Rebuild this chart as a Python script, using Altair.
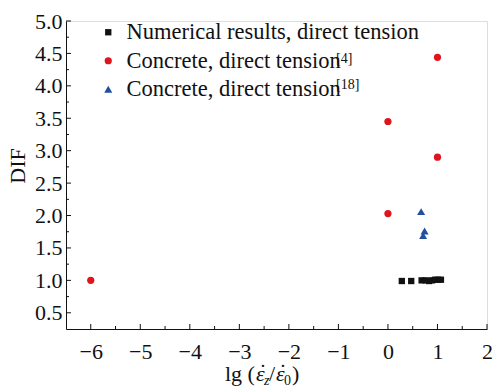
import altair as alt
import pandas as pd

# ---- data ----
num_x = [0.28, 0.47, 0.68, 0.76, 0.83, 0.89, 0.95, 1.01, 1.07]
num_y = [0.99, 0.99, 1.00, 1.00, 0.99, 1.00, 1.01, 1.01, 1.01]
c4_x = [-6, 0, 0, 1, 1]
c4_y = [1.00, 2.03, 3.45, 4.44, 2.90]
c18_x = [0.67, 0.74, 0.71]
c18_y = [2.06, 1.76, 1.69]

series_names = ["Numerical results, direct tension",
                "Concrete, direct tension",
                "Concrete, direct tension "]
series_refs = ["", "[4]", "[18]"]
series_colors = ["#111111", "#e0141c", "#1f4f9e"]
series_shapes = ["square", "circle", "triangle-up"]
series_sizes = [40, 64, 72]

x_major = [-6, -5, -4, -3, -2, -1, 0, 1, 2]
x_minor = [-5.5, -4.5, -3.5, -2.5, -1.5, -0.5, 0.5, 1.5]
y_major = [0.5, 1.0, 1.5, 2.0, 2.5, 3.0, 3.5, 4.0, 4.5, 5.0]
y_minor = [0.75, 1.25, 1.75, 2.25, 2.75, 3.25, 3.75, 4.25, 4.75]

W, H = 421, 308
FONT = "Liberation Serif"

rows = []
for xs, ys, name in [(num_x, num_y, series_names[0]),
                     (c4_x, c4_y, series_names[1]),
                     (c18_x, c18_y, series_names[2])]:
    for a, b in zip(xs, ys):
        rows.append({"x": a, "y": b, "series": name})
df = pd.DataFrame(rows)

xscale = alt.Scale(domain=[-6.5, 2], nice=False, zero=False)
yscale = alt.Scale(domain=[0.25, 5.0], nice=False, zero=False)

xaxis = alt.Axis(values=x_major, format="d", title=None, grid=False,
                 ticks=False, tickSize=0, labelPadding=12,
                 labelFont=FONT, labelFontSize=22, labelColor="#111",
                 domainColor="#111", labelFlush=False, labelOverlap=False)
yaxis = alt.Axis(values=y_major, format=".1f", title=None, grid=False,
                 ticks=False, tickSize=0, labelPadding=4,
                 labelFont=FONT, labelFontSize=22, labelColor="#111",
                 domainColor="#111", labelFlush=False, labelOverlap=False)

points = alt.Chart(df).mark_point(filled=True, opacity=1).encode(
    x=alt.X("x:Q", scale=xscale, axis=xaxis),
    y=alt.Y("y:Q", scale=yscale, axis=yaxis),
    color=alt.Color("series:N", title=None,
                    scale=alt.Scale(domain=series_names, range=series_colors),
                    legend=alt.Legend(orient="none", legendX=31, legendY=0,
                                      labelFont=FONT, labelFontSize=22.5,
                                      labelColor="#111", labelLimit=500,
                                      padding=0, rowPadding=5.5, labelOffset=7)),
    shape=alt.Shape("series:N", title=None,
                    scale=alt.Scale(domain=series_names, range=series_shapes)),
    size=alt.Size("series:N", title=None,
                  scale=alt.Scale(domain=series_names, range=series_sizes)),
)

xmaj = alt.Chart(pd.DataFrame({"x": x_major})).mark_rule(color="#111").encode(
    x=alt.X("x:Q", scale=xscale, axis=xaxis), y=alt.value(H), y2=alt.value(H - 5))
xmin = alt.Chart(pd.DataFrame({"x": x_minor})).mark_rule(color="#111").encode(
    x=alt.X("x:Q", scale=xscale, axis=xaxis), y=alt.value(H), y2=alt.value(H - 3))
ymaj = alt.Chart(pd.DataFrame({"y": y_major})).mark_rule(color="#111").encode(
    y=alt.Y("y:Q", scale=yscale, axis=yaxis), x=alt.value(0), x2=alt.value(5))
ymin = alt.Chart(pd.DataFrame({"y": y_minor})).mark_rule(color="#111").encode(
    y=alt.Y("y:Q", scale=yscale, axis=yaxis), x=alt.value(0), x2=alt.value(3))

def txt(s, x, y, size=22, style="normal", angle=0, align="left", baseline="alphabetic"):
    return alt.Chart(pd.DataFrame({"s": [s]})).mark_text(
        font=FONT, fontSize=size, fontStyle=style, align=align,
        baseline=baseline, angle=angle, color="#111").encode(
        text="s:N", x=alt.value(x), y=alt.value(y))

eps = "\u03b5"
dot = "\u02d9"
labels = [
    txt("lg (", 159, 360),
    txt(eps, 190, 360, style="italic"),
    txt(dot, 197, 358, align="center"),
    txt("z", 198, 364, size=14, style="italic"),
    txt("/", 203, 360),
    txt(eps, 210, 360, style="italic"),
    txt(dot, 217, 358, align="center"),
    txt("0", 218, 364, size=14),
    txt(")", 226, 360),
    txt("DIF", -48, 145, angle=270, align="center", baseline="middle"),
    txt(series_refs[1], 270, 42, size=14),
    txt(series_refs[2], 270, 68, size=14),
]

chart = alt.layer(points, xmaj, xmin, ymaj, ymin, *labels).properties(
    width=W, height=H,
    autosize=alt.AutoSizeParams(type="none"),
    padding={"left": 66, "top": 21, "right": 8, "bottom": 59},
    background="white",
).configure_view(strokeWidth=0).configure_axis(
    labelFont=FONT, labelFontSize=22, labelColor="#111"
).configure(font=FONT)

chart.save("out.html", embed_options={"renderer": "svg", "actions": False})
